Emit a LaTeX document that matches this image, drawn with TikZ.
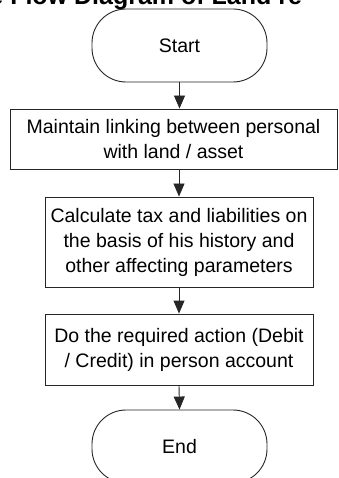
\documentclass[tikz,border=0pt]{standalone}
\usepackage{fontspec}
\setmainfont{Liberation Sans}
\usetikzlibrary{arrows.meta}
\begin{document}
\begin{tikzpicture}[x=1pt,y=-1pt,
  line width=0.9pt,
  boxtext/.style={font=\fontsize{19.5}{25}\selectfont, align=center, inner sep=0pt},
  terminal/.style={boxtext, draw=black!85, rounded corners=34pt, minimum width=175pt, minimum height=73pt},
  stepbox/.style={boxtext, draw=black!85, rectangle},
  arr/.style={draw=black!85, -{Triangle[width=11pt,length=13pt]}}]
  \useasboundingbox (0,0) rectangle (338,478);
  \clip (0,0) rectangle (338,478);
  % heading, mostly above the page edge
  \node[anchor=base west, inner sep=0pt, font=\fontsize{25}{30}\selectfont\bfseries] (title) at (-11,5) {e Flow Diagram of Land re};
  % flow
  \node[terminal] (start) at (179.5,45.5) {Start};
  \node[stepbox, minimum width=327pt, minimum height=60pt] (b1) at (173.5,139)
    {Maintain linking between personal\\with land / asset};
  \node[stepbox, minimum width=268pt, minimum height=90pt] (b2) at (179,242)
    {Calculate tax and liabilities on\\the basis of his history and\\other affecting parameters};
  \node[stepbox, minimum width=268pt, minimum height=71pt] (b3) at (179,349.5)
    {Do the required action (Debit\\/ Credit) in person account};
  \node[terminal] (end) at (179.5,446.5) {End};
  % connectors
  \draw[arr] (start.south) -- (start.south |- b1.north);
  \draw[arr] (b2.north |- b1.south) -- (b2.north);
  \draw[arr] (b2.south) -- (b3.north);
  \draw[arr] (b3.south) -- (end.north);
\end{tikzpicture}
\end{document}
